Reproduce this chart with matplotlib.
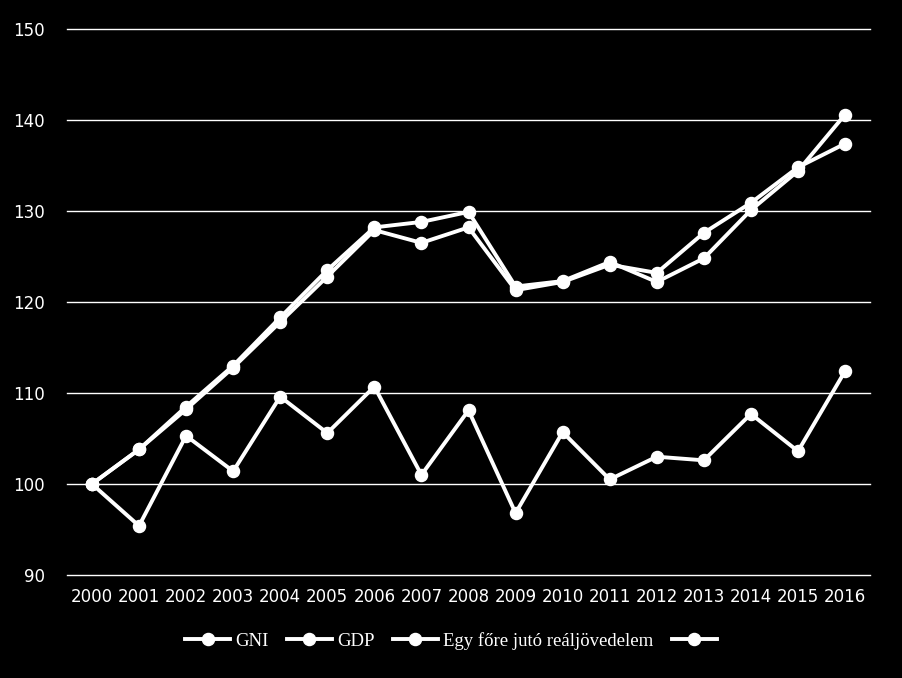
import numpy as np
import matplotlib

matplotlib.use("Agg")
import matplotlib.pyplot as plt

# Values (index, 2000 = 100)
years = [str(y) for y in range(2000, 2017)]

gni = [100, 103.8, 108.2, 112.8, 117.8, 122.8, 127.9, 126.5, 128.2,
       121.3, 122.2, 124.1, 123.2, 127.6, 130.9, 134.8, 137.4]
gdp = [100, 103.8, 108.5, 113.0, 118.3, 123.5, 128.2, 128.8, 129.9,
       121.7, 122.3, 124.4, 122.2, 124.8, 130.1, 134.4, 140.6]
income = [100, 95.4, 105.3, 101.4, 109.6, 105.6, 110.7, 101.0, 108.1,
          96.8, 105.7, 100.5, 103.0, 102.6, 107.7, 103.6, 112.4]

series_labels = ["GNI", "GDP", "Egy főre jutó reáljövedelem", " "]
y_ticks = [90, 100, 110, 120, 130, 140, 150]

fig = plt.figure(figsize=(9.02, 6.78), dpi=100, facecolor="black")
ax = fig.add_axes([67 / 902, 1 - 575 / 678, 803 / 902, 546 / 678])
ax.set_facecolor("black")

x = np.arange(len(years))
style = dict(color="white", lw=2.8, marker="o", markersize=8.7,
             markerfacecolor="white", markeredgecolor="white", zorder=3)

handles = []
for vals in (gni, gdp, income):
    (h,) = ax.plot(x, vals, **style)
    handles.append(h)
# fourth legend entry has no visible data
(h4,) = ax.plot([], [], **style)
handles.append(h4)

ax.set_xlim(-0.53, len(years) - 0.47)
ax.set_ylim(90, 150)
ax.set_yticks(y_ticks)
ax.set_xticks(x)
ax.set_xticklabels(years)
ax.yaxis.grid(True, color="white", lw=1.0)
for gl in ax.get_ygridlines():
    gl.set_clip_on(False)
ax.set_axisbelow(True)
for s in ax.spines.values():
    s.set_visible(False)
ax.tick_params(axis="both", length=0, colors="white", labelsize=12)
ax.tick_params(axis="y", pad=16)
ax.tick_params(axis="x", pad=9)

leg = fig.legend(handles, series_labels, loc="center", ncol=4,
                 bbox_to_anchor=(456 / 902, 1 - 641 / 678),
                 frameon=False, handlelength=2.4, handletextpad=0.3,
                 columnspacing=0.95,
                 prop={"family": "Liberation Serif", "size": 13.5})
for t in leg.get_texts():
    t.set_color("white")

fig.savefig("out.png", facecolor="black")
